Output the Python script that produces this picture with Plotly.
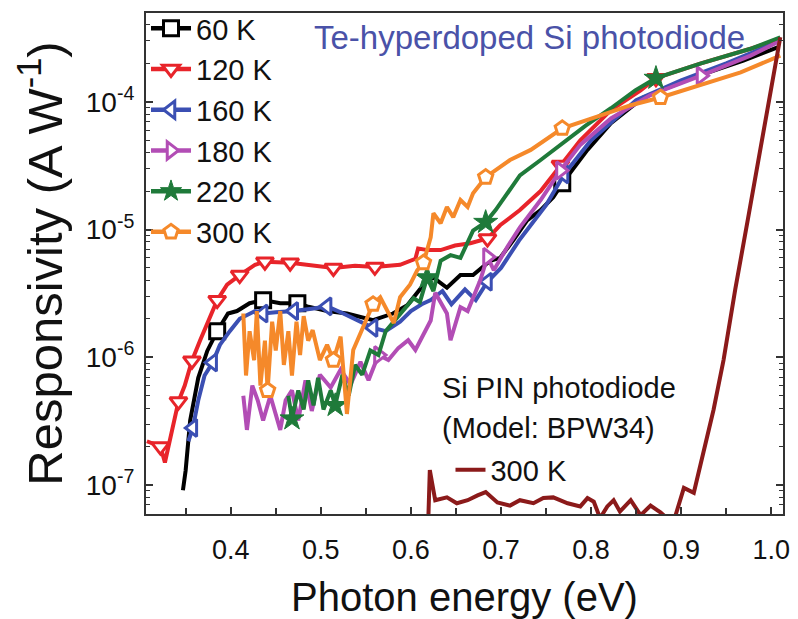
import numpy as np
import plotly.graph_objects as go

# ---------------- data ----------------
x_60 = [0.347,0.350,0.355,0.364,0.374,0.385,0.397,0.407,0.421,0.436,0.455,0.474,0.485,0.507,0.529,0.558,0.580,0.596,0.607,0.618,0.625,0.640,0.655,0.669,0.688,0.699,0.714,0.729,0.744,0.758,0.768,0.796,0.822,0.858,0.914,0.969,1.007]
y_60 = [9.1e-8,1.3e-7,3.2e-7,6.9e-7,1.12e-6,1.6e-6,2.2e-6,2.3e-6,2.65e-6,2.8e-6,2.65e-6,2.65e-6,2.5e-6,2.3e-6,2.2e-6,1.95e-6,2.2e-6,2.55e-6,3.2e-6,4.0e-6,4.2e-6,3.5e-6,4.4e-6,4.4e-6,5.7e-6,6.0e-6,8.3e-6,1.18e-5,1.42e-5,1.79e-5,2.3e-5,4.2e-5,6.8e-5,1.08e-4,1.55e-4,2.1e-4,2.67e-4]
mark_60 = [5, 9, 11, 30]

x_120 = [0.307,0.322,0.327,0.335,0.342,0.349,0.357,0.366,0.375,0.385,0.396,0.410,0.427,0.438,0.466,0.488,0.514,0.538,0.560,0.588,0.605,0.608,0.619,0.633,0.649,0.666,0.685,0.699,0.721,0.744,0.766,0.788,0.822,0.855,0.872,0.922,0.977,1.010]
y_120 = [2.2e-7,2.0e-7,1.5e-7,2.7e-7,4.5e-7,6.0e-7,9.4e-7,1.35e-6,1.94e-6,2.8e-6,3.7e-6,4.4e-6,5.3e-6,5.6e-6,5.5e-6,5.3e-6,5.0e-6,5.2e-6,5.1e-6,5.3e-6,5.9e-6,7.1e-6,6.9e-6,6.9e-6,7.5e-6,7.8e-6,8.5e-6,1.08e-5,1.42e-5,2.0e-5,3.2e-5,5.0e-5,8.6e-5,1.23e-4,1.53e-4,2.0e-4,2.6e-4,3.1e-4]
mark_120 = [1, 4, 6, 9, 11, 13, 14, 16, 18, 26, 30, 34]

x_160 = [0.353,0.358,0.364,0.371,0.380,0.388,0.399,0.410,0.427,0.436,0.450,0.470,0.490,0.507,0.525,0.540,0.558,0.572,0.588,0.600,0.612,0.622,0.635,0.645,0.660,0.672,0.685,0.700,0.720,0.750,0.770,0.800,0.850,0.900,0.950,1.000]
y_160 = [2.2e-7,2.8e-7,4.6e-7,7.2e-7,9.1e-7,1.25e-6,1.6e-6,2.0e-6,2.3e-6,2.2e-6,2.25e-6,2.3e-6,2.4e-6,2.5e-6,2.2e-6,1.95e-6,1.7e-6,1.6e-6,1.9e-6,2.3e-6,2.6e-6,2.8e-6,3.3e-6,2.6e-6,3.4e-6,2.8e-6,3.9e-6,5.0e-6,8.2e-6,1.55e-5,2.7e-5,5.0e-5,1.03e-4,1.47e-4,2.0e-4,2.8e-4]
mark_160 = [1, 4, 9, 11, 13, 16, 26, 30]

x_180 = [0.414,0.418,0.424,0.430,0.436,0.444,0.455,0.461,0.468,0.475,0.483,0.490,0.499,0.511,0.522,0.533,0.544,0.553,0.564,0.575,0.586,0.597,0.605,0.616,0.622,0.627,0.640,0.644,0.655,0.663,0.677,0.685,0.692,0.707,0.721,0.744,0.766,0.788,0.822,0.866,0.922,0.977,1.010]
y_180 = [5.0e-7,2.7e-7,6.0e-7,4.6e-7,3.2e-7,5.0e-7,2.7e-7,4.6e-7,5.5e-7,3.2e-7,6.6e-7,3.8e-7,7.3e-7,5.8e-7,8.0e-7,6.1e-7,9.2e-7,6.6e-7,1.04e-6,9.5e-7,1.18e-6,1.36e-6,1.14e-6,1.6e-6,1.94e-6,3.2e-6,2.2e-6,1.36e-6,2.47e-6,2.3e-6,4.0e-6,6.1e-6,4.8e-6,7.3e-6,1.04e-5,1.7e-5,2.9e-5,4.6e-5,7.4e-5,1.13e-4,1.6e-4,2.3e-4,3.0e-4]
mark_180 = [18, 31, 36, 40]

x_220 = [0.464,0.468,0.475,0.481,0.486,0.492,0.497,0.503,0.511,0.516,0.524,0.531,0.538,0.546,0.555,0.564,0.572,0.581,0.592,0.603,0.610,0.618,0.625,0.633,0.644,0.655,0.669,0.683,0.694,0.707,0.721,0.744,0.766,0.794,0.822,0.849,0.872,0.922,0.977,1.010]
y_220 = [5.0e-7,3.3e-7,5.5e-7,3.9e-7,6.6e-7,4.2e-7,6.9e-7,3.9e-7,5.5e-7,4.2e-7,7.3e-7,5.0e-7,8.7e-7,7.3e-7,1.13e-6,1.04e-6,1.6e-6,1.9e-6,2.3e-6,2.9e-6,2.7e-6,4.2e-6,3.3e-6,5.7e-6,6.3e-6,6.0e-6,9.8e-6,1.14e-5,1.42e-5,1.9e-5,2.65e-5,3.5e-5,4.6e-5,6.5e-5,8.9e-5,1.23e-4,1.53e-4,2.0e-4,2.6e-4,3.2e-4]
mark_220 = [1, 9, 21, 27, 36]

x_300 = [0.414,0.417,0.421,0.426,0.429,0.433,0.438,0.441,0.446,0.450,0.455,0.459,0.464,0.468,0.473,0.477,0.481,0.486,0.491,0.499,0.507,0.514,0.522,0.529,0.536,0.544,0.558,0.566,0.574,0.581,0.588,0.599,0.607,0.614,0.622,0.625,0.633,0.640,0.647,0.655,0.663,0.669,0.683,0.710,0.733,0.768,0.810,0.844,0.877,0.922,0.966,1.010]
y_300 = [2.2e-6,7.2e-7,1.6e-6,9.5e-7,2.3e-6,6.0e-7,1.35e-6,5.5e-7,1.9e-6,1.13e-6,2.3e-6,8.7e-7,1.6e-6,7.2e-7,1.9e-6,1.04e-6,2.1e-6,1.35e-6,1.63e-6,9.5e-7,1.25e-6,9.5e-7,1.45e-6,3.6e-7,1.14e-6,1.55e-6,2.6e-6,2.95e-6,2.33e-6,1.85e-6,2.95e-6,3.7e-6,4.8e-6,5.5e-6,8.7e-6,1.34e-5,1.12e-5,1.5e-5,1.25e-5,1.7e-5,1.5e-5,1.92e-5,2.57e-5,3.5e-5,4.2e-5,6.2e-5,7.8e-5,9.4e-5,1.08e-4,1.35e-4,1.7e-4,2.3e-4]
mark_300 = [7, 21, 26, 33, 42, 45, 48]

x_pin = [0.619,0.621,0.627,0.640,0.651,0.663,0.674,0.683,0.696,0.710,0.721,0.736,0.747,0.758,0.774,0.788,0.796,0.803,0.810,0.818,0.825,0.832,0.844,0.855,0.866,0.877,0.891,0.903,0.914,0.925,0.936,0.947,0.960,0.974,0.988,0.999,1.010]
y_pin = [4.5e-8,1.31e-7,7.6e-8,8.0e-8,7.2e-8,7.6e-8,8.3e-8,8.8e-8,7.3e-8,6.9e-8,7.6e-8,7.2e-8,7.9e-8,8.0e-8,7.2e-8,6.8e-8,7.9e-8,7.4e-8,5.5e-8,6.8e-8,7.6e-8,6.2e-8,7.6e-8,5.8e-8,6.9e-8,6.1e-8,5.0e-8,9.5e-8,8.7e-8,1.87e-7,3.9e-7,9.5e-7,3.4e-6,1.2e-5,4.2e-5,1.23e-4,3.2e-4]

names = ["60 K", "120 K", "160 K", "180 K", "220 K", "300 K"]
pin_name = "300 K"
x_ticks = [0.4, 0.5, 0.6, 0.7, 0.8, 0.9, 1.0]
x_ticktext = ["0.4", "0.5", "0.6", "0.7", "0.8", "0.9", "1.0"]
y_decades = [-7, -6, -5, -4]

# ---------------- styling ----------------
FONT = "Liberation Sans, Arial, sans-serif"
styles = [
    ("#000000", "square"),
    ("#e8242a", "triangle-down"),
    ("#3b4fb3", "triangle-left"),
    ("#b24db5", "triangle-right"),
    ("#1f7a3a", "star"),
    ("#f5892a", "pentagon"),
]
PIN_COLOR = "#8b1a1a"
LW = 4

xs = [x_60, x_120, x_160, x_180, x_220, x_300]
ys = [y_60, y_120, y_160, y_180, y_220, y_300]
marks = [mark_60, mark_120, mark_160, mark_180, mark_220, mark_300]

fig = go.Figure()
for name, x, y, mk, (col, sym) in zip(names, xs, ys, marks, styles):
    filled = sym == "star"
    mstyle = dict(symbol=sym, size=15 if not filled else 18,
                  color=col if filled else "white",
                  line=dict(color=col, width=3 if not filled else 1))
    fig.add_trace(go.Scatter(x=x, y=y, mode="lines", line=dict(color=col, width=LW),
                             showlegend=False, hoverinfo="skip"))
    fig.add_trace(go.Scatter(x=[x[i] for i in mk], y=[y[i] for i in mk], mode="markers",
                             marker=mstyle, showlegend=False, hoverinfo="skip"))
    fig.add_trace(go.Scatter(x=[None], y=[None], mode="lines+markers", name=name,
                             line=dict(color=col, width=LW + 0.5), marker=mstyle, legend="legend"))

fig.add_trace(go.Scatter(x=x_pin, y=y_pin, mode="lines", line=dict(color=PIN_COLOR, width=LW),
                         name=pin_name, legend="legend2", hoverinfo="skip"))

minor_vals = [m * 10.0 ** d for d in range(-8, -2) for m in range(2, 10)]
major_vals = [10.0 ** d for d in y_decades]
major_text = ["10<sup>%d</sup>" % d for d in y_decades]

AX_COLOR = "#333333"
fig.update_layout(
    width=798, height=619,
    margin=dict(l=146, r=15, t=13, b=105, autoexpand=False),
    paper_bgcolor="white", plot_bgcolor="white",
    font=dict(family=FONT, color="#111111"),
    xaxis=dict(
        range=[0.306, 1.013], tickvals=x_ticks, ticktext=x_ticktext,
        ticks="inside", ticklen=7, tickwidth=1.5, tickcolor=AX_COLOR,
        minor=dict(tickvals=[0.35, 0.45, 0.55, 0.65, 0.75, 0.85, 0.95], ticks="inside", ticklen=6,
                   tickwidth=1.5, tickcolor=AX_COLOR),
        showline=True, linecolor=AX_COLOR, linewidth=2, mirror=True,
        showgrid=False, zeroline=False,
        tickfont=dict(size=27, family=FONT),
        ticklabelstandoff=11,
        title=dict(text="Photon energy (eV)", font=dict(size=40, family=FONT), standoff=24),
    ),
    yaxis=dict(
        type="log", range=[-7.227, -3.305],
        tickvals=major_vals, ticktext=major_text,
        ticks="inside", ticklen=7, tickwidth=1.5, tickcolor=AX_COLOR,
        minor=dict(tickvals=minor_vals, ticks="inside", ticklen=4, tickwidth=1.2, tickcolor=AX_COLOR),
        showline=True, linecolor=AX_COLOR, linewidth=2, mirror="ticks",
        showgrid=False, zeroline=False,
        tickfont=dict(size=28, family=FONT),
        ticklabelstandoff=4,
        title=dict(text="Responsivity (A W<sup>-1</sup>)", font=dict(size=49, family=FONT), standoff=8),
    ),
    legend=dict(
        x=0.0, y=1.02, xanchor="left", yanchor="top",
        bgcolor="rgba(0,0,0,0)", borderwidth=0,
        font=dict(size=29, family=FONT, color="#111111"),
        tracegroupgap=0, itemwidth=40,
    ),
    legend2=dict(
        x=0.478, y=0.088, xanchor="left", yanchor="middle",
        bgcolor="rgba(0,0,0,0)", borderwidth=0,
        font=dict(size=29, family=FONT, color="#111111"),
    ),
    annotations=[
        dict(text="Te-hyperdoped Si photodiode", xref="paper", yref="paper", x=0.26, y=0.952,
             xanchor="left", yanchor="middle", showarrow=False,
             font=dict(size=33, family=FONT, color="#4a52a8")),
        dict(text="Si PIN photodiode", xref="paper", yref="paper", x=0.462, y=0.2515,
             xanchor="left", yanchor="middle", showarrow=False,
             font=dict(size=29, family=FONT, color="#111111")),
        dict(text="(Model: BPW34)", xref="paper", yref="paper", x=0.462, y=0.1717,
             xanchor="left", yanchor="middle", showarrow=False,
             font=dict(size=29, family=FONT, color="#111111")),
    ],
)

fig.write_html("out.html")
